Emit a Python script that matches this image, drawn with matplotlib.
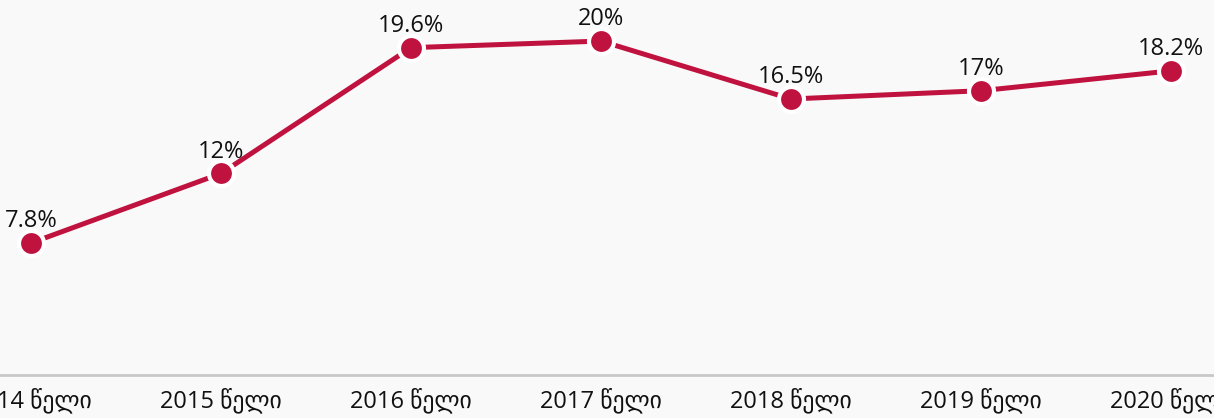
import matplotlib.pyplot as plt

years = ['2014 წელი', '2015 წელი', '2016 წელი', '2017 წელი',
         '2018 წელი', '2019 წელი', '2020 წელი']
values = [7.8, 12, 19.6, 20, 16.5, 17, 18.2]
labels = ['7.8%', '12%', '19.6%', '20%', '16.5%', '17%', '18.2%']

plt.rcParams['font.family'] = ['Open Sans', 'DejaVu Sans']

bg = '#f9f9f9'
red = '#c0123f'

fig = plt.figure(figsize=(12.14, 4.18), dpi=100, facecolor=bg)
ax = fig.add_axes([0, 0.103, 1, 0.897], facecolor=bg)

x = list(range(len(years)))
ax.plot(x, values, color=red, lw=3.6, zorder=2)
ax.plot(x, values, 'o', color=red, ms=18, mec='white', mew=3, zorder=3)

for xi, v, t in zip(x, values, labels):
    ax.annotate(t, xy=(xi, v), xytext=(0, 7), textcoords='offset points',
                ha='center', va='bottom', fontsize=17, color='#111111')

ax.set_xlim(-31 / 190, (1214 - 31) / 190)
ax.set_ylim(-0.17, 22.48)
ax.set_xticks(x)
ax.set_xticklabels(years, fontsize=17, color='#111111')
ax.set_yticks([])
ax.tick_params(axis='x', length=0, pad=9)

for side in ['top', 'left', 'right']:
    ax.spines[side].set_visible(False)
ax.spines['bottom'].set_color('#c8c8c8')
ax.spines['bottom'].set_linewidth(2)

fig.savefig('out.png', dpi=100, facecolor=bg)
